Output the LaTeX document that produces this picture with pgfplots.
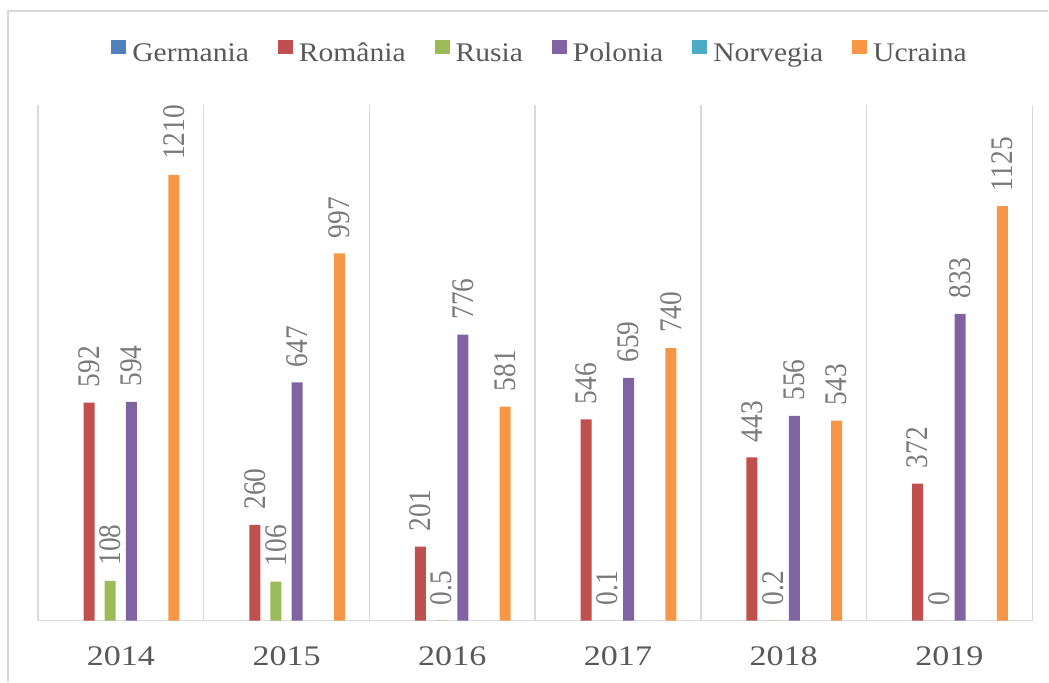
\documentclass[border=0pt]{standalone}
\usepackage{pgfplots}
\pgfplotsset{compat=1.18}
\usepackage{fontspec}
\setmainfont{Liberation Serif}
\newfontfamily\legendfont{Liberation Serif}[FakeStretch=1.1]
\newfontfamily\yearfont{Liberation Serif}[FakeStretch=1.2]
\newfontfamily\labelfont{Liberation Serif}
\definecolor{cGe}{HTML}{4F81BD}
\definecolor{cRo}{HTML}{C0504D}
\definecolor{cRu}{HTML}{9BBB59}
\definecolor{cPo}{HTML}{8064A2}
\definecolor{cNo}{HTML}{4BACC6}
\definecolor{cUc}{HTML}{F79646}
\definecolor{gridgray}{HTML}{D9D9D9}
\definecolor{txtgray}{HTML}{595959}
\definecolor{lblgray}{HTML}{7A7A7A}
\begin{document}
\begin{tikzpicture}
\begin{axis}[
  scale only axis, width=995bp, height=516bp,
  clip=false,
  xmin=-0.5, xmax=5.5, ymin=0, ymax=1400,
  ybar=10.2bp, bar width=11bp,
  axis x line*=bottom, axis y line=none,
  x axis line style={gridgray, line width=1.5bp},
  xtick={0,1,2,3,4,5}, xticklabels={2014,2015,2016,2017,2018,2019},
  major tick length=0pt,
  xticklabel style={font=\yearfont\fontsize{28.5}{28.5}\selectfont, text=txtgray, anchor=north, inner sep=0pt, yshift=-26bp},
  extra x ticks={-0.5,0.5,1.5,2.5,3.5,4.5,5.5}, extra x tick labels={},
  extra x tick style={grid=major, major grid style={gridgray, line width=1.5bp}},
  ytick=\empty,
  legend columns=-1,
  legend style={at={(rel axis cs:0.504,1.103)}, anchor=center, draw=none, fill=none,
    font=\legendfont\fontsize{27}{27}\selectfont, text=txtgray, inner sep=0pt,
    nodes={inner sep=0pt},
    /tikz/every odd column/.style={column sep=6bp},
    /tikz/every even column/.style={column sep=29bp}},
  legend image code/.code={\fill[#1] (0,-1bp) rectangle (15bp,13bp);},
  point meta=explicit symbolic,
  every node near coord/.append style={font=\labelfont\fontsize{27.5}{27.5}\selectfont, text=lblgray,
    xscale=1.15, rotate=90, anchor=west, inner sep=0pt, inner xsep=15bp},
]
\path (rel axis cs:-0.03819,-0.11822) rectangle (rel axis cs:1.01608,1.20349);
\draw[gridgray, line width=1.5bp] (rel axis cs:-0.03015,-0.11822) -- (rel axis cs:-0.03015,1.18217) -- (rel axis cs:1.01608,1.18217);
\addplot[fill=none, draw=none, legend image code/.code={\fill[cGe] (0,-1bp) rectangle (15bp,13bp);}] coordinates {(0,0) (1,0) (2,0) (3,0) (4,0) (5,0)};
\addplot[fill=cRo, draw=none, nodes near coords] coordinates {(0,592)[592] (1,260)[260] (2,201)[201] (3,546)[546] (4,443)[443] (5,372)[372]};
\addplot[fill=cRu, draw=none, nodes near coords] coordinates {(0,108)[108] (1,106)[106] (2,0.5)[0.5] (3,0.1)[0.1] (4,0.2)[0.2] (5,0)[0]};
\addplot[fill=cPo, draw=none, nodes near coords] coordinates {(0,594)[594] (1,647)[647] (2,776)[776] (3,659)[659] (4,556)[556] (5,833)[833]};
\addplot[fill=none, draw=none, legend image code/.code={\fill[cNo] (0,-1bp) rectangle (15bp,13bp);}] coordinates {(0,0) (1,0) (2,0) (3,0) (4,0) (5,0)};
\addplot[fill=cUc, draw=none, nodes near coords] coordinates {(0,1210)[1210] (1,997)[997] (2,581)[581] (3,740)[740] (4,543)[543] (5,1125)[1125]};
\legend{Germania, România, Rusia, Polonia, Norvegia, Ucraina}
\end{axis}
\end{tikzpicture}
\end{document}
